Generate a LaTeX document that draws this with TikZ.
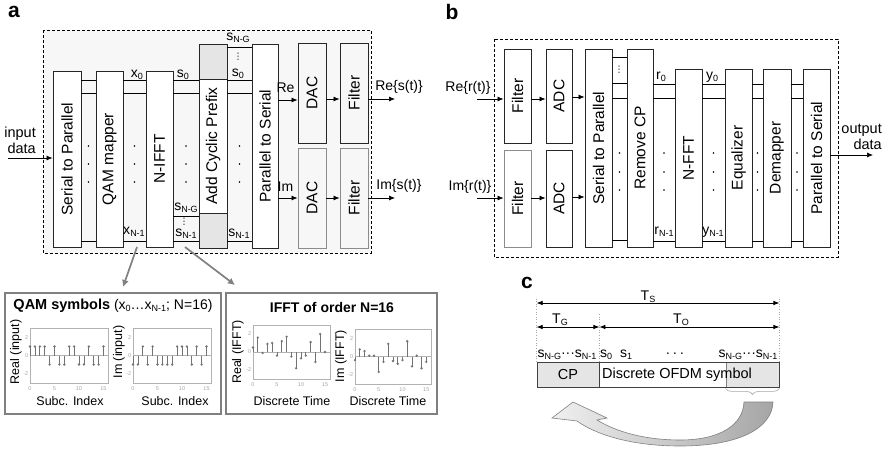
\documentclass[tikz,border=0pt]{standalone}
\usepackage{fontspec}
\setmainfont{Liberation Sans}
\newfontfamily\symfont{DejaVu Sans}
\usetikzlibrary{arrows.meta,decorations.pathreplacing}
\newcommand{\ssub}[2]{#1\raisebox{-0.3ex}{\fontsize{9}{9}\selectfont #2}}
\newcommand{\vd}{{\symfont\fontsize{9}{9}\selectfont ⋮}}

\begin{document}
\begin{tikzpicture}[x=1pt,y=-1pt]
	\tikzset{
		blk/.style={draw=black!85, fill=white, line width=0.9pt, inner sep=0pt, font=\fontsize{15.5}{15.5}\selectfont},
		blkg/.style={blk, draw=black!45},
		capbox/.style={draw=black!85, fill=gray!20, line width=0.9pt, inner sep=0pt},
		lbl/.style={inner sep=0pt, font=\fontsize{14}{16}\selectfont},
		wire/.style={line width=0.8pt},
		arr/.style={line width=0.7pt, -{Latex[length=6pt,width=5pt]}},
		dimarr/.style={line width=0.7pt, {Latex[length=6pt,width=4.5pt]}-{Latex[length=6pt,width=4.5pt]}},
		guide/.style={gray!70, dotted, line width=0.6pt},
		callout/.style={black!50, line width=1.7pt, -{Latex[length=7pt,width=7pt]}},
		plotbox/.style={draw=black!50, fill=white, line width=2.4pt, inner sep=0pt},
		axframe/.style={draw=gray!60, line width=0.7pt},
		stemline/.style={black!55, line width=0.7pt},
		ticklbl/.style={inner sep=0pt, text=gray!70, font=\fontsize{5.5}{5.5}\selectfont},
		axlbl/.style={inner sep=0pt, font=\fontsize{12.5}{12.5}\selectfont},
		cpbox/.style={draw=black!75, fill=gray!20, line width=0.8pt, inner sep=0pt, font=\fontsize{14.5}{14.5}\selectfont},
		panel/.style={inner sep=0pt, font=\fontsize{21}{21}\selectfont\bfseries}
	}
	\fill[white] (0,0) rectangle (887,450);

	\node[panel] (pa) at (14,12) {a};
	\node[panel] (pb) at (452,12) {b};
	\node[panel] (pc) at (527,283) {c};

	\draw[dash pattern=on 3pt off 2pt, fill=gray!6, line width=0.6pt] (43,30) rectangle (371,253);
	\node[blk, minimum width=28, minimum height=176] (s2p) at (67,159) {\rotatebox{90}{Serial to Parallel}};
	\node[blk, minimum width=27, minimum height=176] (qam) at (109.5,159) {\rotatebox{90}{QAM mapper}};
	\node[blk, minimum width=27, minimum height=176] (ifft) at (159.5,159) {\rotatebox{90}{N-IFFT}};
	\node[blk, minimum width=28, minimum height=204] (acp) at (213,146) {\rotatebox{90}{Add Cyclic Prefix}};
	\node[capbox, minimum width=28, minimum height=35] (acptop) at (213,61.5) {};
	\node[capbox, minimum width=28, minimum height=35] (acpbot) at (213,230.5) {};
	\node[blk, minimum width=26, minimum height=204] (p2s) at (265,146) {\rotatebox{90}{Parallel to Serial}};
	\node[blk, fill=none, minimum width=28, minimum height=100] (dac1) at (312,93) {\rotatebox{90}{DAC}};
	\node[blkg, fill=none, minimum width=28, minimum height=100] (dac2) at (312,198) {\rotatebox{90}{DAC}};
	\node[blk, fill=none, minimum width=28, minimum height=100] (filt1) at (354,93) {\rotatebox{90}{Filter}};
	\node[blkg, fill=none, minimum width=28, minimum height=100] (filt2) at (354,198) {\rotatebox{90}{Filter}};

	\foreach \a/\b in {s2p/qam,qam/ifft,ifft/acp,acp/p2s}
		\foreach \y in {80,93,241}
			\draw[wire] (\a.east |- 0,\y) -- (\b.west |- 0,\y);
	\draw[wire] (ifft.east |- 0,216) -- (acp.west |- 0,216);
	\draw[wire] (acp.east |- 0,47) -- (p2s.west |- 0,47);
	\foreach \x in {88.5,134.5,186,239.5}
		\foreach \y in {146,164,182}
			\fill (\x,\y) circle (0.9);

	\node[lbl, anchor=base] (x0) at (137,77) {\ssub{x}{0}};
	\node[lbl, anchor=base] (s0a) at (183,77) {\ssub{s}{0}};
	\node[lbl, anchor=base] (sga) at (238,40) {\ssub{s}{N-G}};
	\node[lbl] (vda) at (238,57) {\vd};
	\node[lbl, anchor=base] (s0b) at (238,76) {\ssub{s}{0}};
	\node[lbl, anchor=base] (xn1) at (134,234) {\ssub{x}{N-1}};
	\node[lbl, anchor=base] (sgb) at (186,210) {\ssub{s}{N-G}};
	\node[lbl] (vdb) at (184,222) {\vd};
	\node[lbl, anchor=base] (sn1a) at (186,236) {\ssub{s}{N-1}};
	\node[lbl, anchor=base] (sn1b) at (239,236) {\ssub{s}{N-1}};

	\coordinate (inp) at (8,158);
	\node[lbl, align=right, anchor=east, font=\fontsize{14.5}{16}\selectfont] (inlbl) at (36,140) {input\\data};
	\draw[arr] (inp) -- (s2p.west |- inp);
	\draw[arr] (p2s.east |- 0,100) -- (dac1.west |- 0,100);
	\draw[arr] (p2s.east |- 0,198) -- (dac2.west |- 0,198);
	\node[lbl] (re) at (285.5,88) {Re};
	\node[lbl] (im) at (285.5,187) {Im};
	\draw[arr] (dac1.east |- 0,99) -- (filt1.west |- 0,99);
	\draw[arr] (dac2.east |- 0,198) -- (filt2.west |- 0,198);
	\coordinate (reout) at (395,99);
	\coordinate (imout) at (395,198);
	\draw[arr] (filt1.east |- reout) -- (reout);
	\draw[arr] (filt2.east |- imout) -- (imout);
	\node[lbl] (res) at (399,87) {Re\{s(t)\}};
	\node[lbl] (ims) at (399,186) {Im\{s(t)\}};

	\node[plotbox, minimum width=216, minimum height=121] (qambox) at (113,353.5) {};
	\node[plotbox, minimum width=211, minimum height=121] (ifftbox) at (331.5,353.5) {};
	\coordinate (qamfrom) at (137,247);
	\coordinate (qamtip) at (123,287);
	\coordinate (ifftfrom) at (185,247);
	\coordinate (iffttip) at (235,285);
	\draw[callout] (qamfrom) -- (qamtip);
	\draw[callout] (ifftfrom) -- (iffttip);
	\node[lbl] (qamttl) at (113,306) {\textbf{\fontsize{14.5}{14.5}\selectfont QAM symbols} (\ssub{x}{0}…\ssub{x}{N-1}; N=16)};
	\node[lbl, font=\fontsize{14}{14}\selectfont\bfseries] (ifftttl) at (332,307) {IFFT of order N=16};

	\foreach \px/\py/\w/\h/\dx/\vals in {
		30/355.5/78.5/27.5/4.9/{1,1,1,1,-1,1,-1,-1,1,1,-1,-1,1,-1,-1,1},
		133/355.5/78.5/27.5/4.9/{-1,-1,1,-1,1,-1,-1,-1,-1,1,1,1,-1,1,-1,1},
		253/352/77/27/4.8/{0.5,1.6,-0.1,0.9,1.0,-0.4,1.2,1.7,-0.5,-1.8,-0.7,-0.4,1.1,-1.1,2.0,0},
		355/356.5/76/27.5/4.75/{-0.4,0.8,0.6,0.1,0.1,-1.7,-0.6,1.4,-0.5,-0.8,-0.4,1.7,-1.1,0.1,-1.3,-0.6}}
	{
		\begin{scope}[shift={(\px,\py)}]
			\draw[axframe] (0,-\h) rectangle (\w,\h);
			\draw[axframe] (0,0) -- (\w,0);
			\foreach \v [count=\i from 0] in \vals {
				\draw[stemline] (\i*\dx,0) -- (\i*\dx,-9*\v);
				\fill[black!55] (\i*\dx,-9*\v) circle (1.3);
			}
			\foreach \t in {0,5,10,15}
				\node[ticklbl] at (\t*\dx,\h+6) {\t};
			\node[ticklbl, anchor=east] at (-1.5,-18) {2};
			\node[ticklbl, anchor=east] at (-1.5,0) {0};
			\node[ticklbl, anchor=east] at (-1.5,18) {-2};
		\end{scope}
	}
	\node[axlbl] (yl1) at (16,352) {\rotatebox{90}{Real (input)}};
	\node[axlbl] (yl2) at (119,352) {\rotatebox{90}{Im (input)}};
	\node[axlbl] (yl3) at (238,352) {\rotatebox{90}{Real (IFFT)}};
	\node[axlbl] (yl4) at (341,356) {\rotatebox{90}{Im (IFFT)}};
	\node[axlbl] (xl1) at (70,401) {Subc. Index};
	\node[axlbl] (xl2) at (175,401) {Subc. Index};
	\node[axlbl] (xl3) at (292,401) {Discrete Time};
	\node[axlbl] (xl4) at (388,401) {Discrete Time};

	\draw[dash pattern=on 3pt off 2pt, line width=0.6pt] (494,39) rectangle (838,257);
	\node[blk, minimum width=27, minimum height=94] (bfilt1) at (517.5,96) {\rotatebox{90}{Filter}};
	\node[blkg, minimum width=27, minimum height=97] (bfilt2) at (517.5,198.5) {\rotatebox{90}{Filter}};
	\node[blk, minimum width=26, minimum height=94] (adc1) at (559,96) {\rotatebox{90}{ADC}};
	\node[blk, minimum width=26, minimum height=97] (adc2) at (559,198.5) {\rotatebox{90}{ADC}};
	\node[blk, minimum width=27, minimum height=198] (bs2p) at (598.5,148) {\rotatebox{90}{Serial to Parallel}};
	\node[blk, minimum width=26, minimum height=198] (rmcp) at (640,148) {\rotatebox{90}{Remove CP}};
	\node[blk, minimum width=27, minimum height=178] (fft) at (688.5,158) {\rotatebox{90}{N-FFT}};
	\node[blk, minimum width=27, minimum height=178] (eq) at (738.5,158) {\rotatebox{90}{Equalizer}};
	\node[blk, minimum width=28, minimum height=178] (demap) at (777,158) {\rotatebox{90}{Demapper}};
	\node[blk, minimum width=27, minimum height=178] (bp2s) at (816.5,158) {\rotatebox{90}{Parallel to Serial}};

	\foreach \y in {57,83,98,240}
		\draw[wire] (bs2p.east |- 0,\y) -- (rmcp.west |- 0,\y);
	\foreach \a/\b in {rmcp/fft,fft/eq,eq/demap,demap/bp2s}
		\foreach \y in {84,98,241}
			\draw[wire] (\a.east |- 0,\y) -- (\b.west |- 0,\y);
	\foreach \x in {619.5,664,713.5,757.5,797}
		\foreach \y in {153,172,190}
			\fill (\x,\y) circle (0.9);
	\node[lbl] (vdc) at (619,70) {\vd};
	\node[lbl, anchor=base] (r0) at (661,79) {\ssub{r}{0}};
	\node[lbl, anchor=base] (rn1) at (664,234) {\ssub{r}{N-1}};
	\node[lbl, anchor=base] (y0) at (712,79) {\ssub{y}{0}};
	\node[lbl, anchor=base] (yn1) at (713,234) {\ssub{y}{N-1}};

	\coordinate (rein) at (477,99);
	\coordinate (imin) at (477,198);
	\draw[arr] (rein) -- (bfilt1.west |- rein);
	\draw[arr] (imin) -- (bfilt2.west |- imin);
	\node[lbl] (rer) at (468,88) {Re\{r(t)\}};
	\node[lbl] (imr) at (470,187) {Im\{r(t)\}};
	\draw[arr] (bfilt1.east |- 0,99) -- (adc1.west |- 0,99);
	\draw[arr] (bfilt2.east |- 0,198) -- (adc2.west |- 0,198);
	\draw[arr] (adc1.east |- 0,97) -- (bs2p.west |- 0,97);
	\draw[arr] (adc2.east |- 0,197) -- (bs2p.west |- 0,197);
	\coordinate (outp) at (873,155);
	\draw[arr] (bp2s.east |- outp) -- (outp);
	\node[lbl, align=right, anchor=east, font=\fontsize{14.5}{16}\selectfont] (outlbl) at (882,137) {output\\data};

	\node[cpbox, minimum width=62, minimum height=25] (cp) at (568,374.5) {CP};
	\node[cpbox, draw=black!50, minimum width=53, minimum height=25] (tail) at (752.5,374.5) {};
	\node[draw=black!75, line width=0.8pt, inner sep=0pt, minimum width=180, minimum height=25] (ofdm) at (689,374.5) {};
	\node[lbl, font=\fontsize{14.5}{14.5}\selectfont] (ofdmtxt) at (677,375) {Discrete OFDM symbol};
	\draw[guide] (cp.north west) -- ++(0,-65);
	\draw[guide] (cp.north east) -- ++(0,-49);
	\draw[guide] (ofdm.north east) -- ++(0,-65);
	\draw[dimarr] (cp.north west |- 0,303) -- (ofdm.north east |- 0,303);
	\draw[dimarr] (cp.north west |- 0,327) -- (cp.north east |- 0,327);
	\draw[dimarr] (cp.north east |- 0,327) -- (ofdm.north east |- 0,327);
	\node[lbl, anchor=base] (lts) at (648,300) {\ssub{T}{S}};
	\node[lbl, anchor=base] (ltg) at (560,323) {\ssub{T}{G}};
	\node[lbl, anchor=base] (lto) at (681,323) {\ssub{T}{O}};
	\node[lbl, anchor=base] (cpseq) at (567,357) {\ssub{s}{N-G}···\ssub{s}{N-1}};
	\node[lbl, anchor=base] (sq0) at (606,357) {\ssub{s}{0}};
	\node[lbl, anchor=base] (sq1) at (626,357) {\ssub{s}{1}};
	\node[lbl, anchor=base] (sqd) at (675,357) {·\,·\,·};
	\node[lbl, anchor=base] (tailseq) at (748,357) {\ssub{s}{N-G}···\ssub{s}{N-1}};
	\draw[gray!70, line width=0.6pt, decorate, decoration={brace, amplitude=6pt}] ([yshift=-1pt]tail.south east) -- ([yshift=-1pt]tail.south west);
	\shade[left color=gray!12, right color=gray!70, draw=black!50, line width=0.6pt]
		(744,402) -- (773,402)
		.. controls (772,428) and (740,446) .. (680,446)
		.. controls (630,446) and (595,434) .. (577,421)
		-- (552,418) -- (573,402) -- (607,418) -- (597,420)
		.. controls (620,434) and (650,440) .. (680,440)
		.. controls (720,440) and (743,425) .. (744,402) -- cycle;
\end{tikzpicture}
\end{document}
